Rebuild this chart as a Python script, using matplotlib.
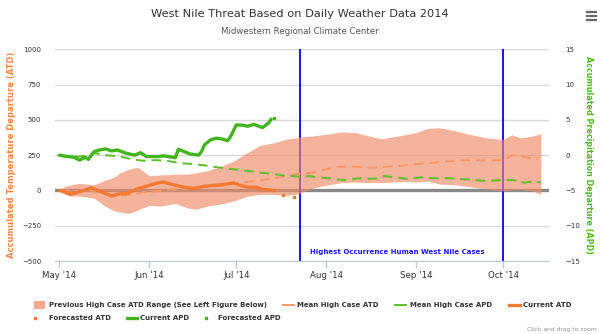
import numpy as np
import matplotlib
matplotlib.use("Agg")
import matplotlib.pyplot as plt
import matplotlib.dates as mdates
from matplotlib.lines import Line2D
from matplotlib.patches import Rectangle
from datetime import datetime

plt.rcParams['font.family'] = ['DejaVu Sans']

# ---- data (day of season counted from 1 May 2014) ----
range_day = [0, 2, 4, 7, 12, 16, 19, 21, 24, 27, 28, 31, 35, 40, 44, 47, 51, 55, 60, 65,
             69, 74, 78, 82, 84, 88, 93, 97, 102, 107, 111, 118, 123, 127, 131, 136, 140,
             147, 153, 156, 159, 163, 166]
range_low = [-5, -30, -40, -40, -55, -115, -145, -153, -163, -140, -130, -106, -111, -92,
             -123, -134, -111, -99, -76, -40, -28, -28, -35, -28, -10, 20, 40, 55, 59, 56,
             55, 63, 60, 66, 45, 40, 30, 10, -5, 5, 7, -5, -28]
range_high = [5, 30, 40, 50, 40, 75, 95, 125, 150, 165, 150, 105, 110, 115, 115, 125, 140,
              165, 207, 270, 318, 338, 361, 375, 380, 388, 400, 415, 410, 385, 366, 390, 410,
              440, 444, 425, 404, 373, 361, 394, 373, 385, 403]

mean_atd_day = [0, 5, 10, 13, 17, 20, 25, 29, 34, 38, 44, 54, 62, 70, 77, 82, 87, 92, 96,
                102, 108, 113, 119, 125, 131, 138, 145, 152, 154, 156, 160, 165]
mean_atd = [0, -5, 2, -12, -28, -40, -30, -12, -5, 5, 12, 30, 54, 73, 98, 115, 125, 150, 168,
            168, 161, 168, 177, 191, 200, 214, 212, 214, 224, 250, 238, 219]

mean_apd_day = [0, 7, 10, 12, 16, 21, 25, 29, 33, 37, 42, 46, 51, 55, 60, 65, 69, 74, 78, 80,
                84, 86, 88, 93, 99, 103, 106, 110, 112, 116, 120, 125, 129, 134, 139, 147, 154,
                158, 160, 163, 166]
mean_apd = [-0.1, -0.2, 0.0, 0.3, 0.0, -0.2, -0.58, -0.8, -0.7, -0.8, -1.15, -1.25, -1.5,
            -1.75, -2.0, -2.24, -2.48, -2.66, -2.95, -2.95, -3.1, -2.95, -3.1, -3.27, -3.6,
            -3.27, -3.4, -3.27, -2.95, -3.15, -3.37, -3.13, -3.27, -3.27, -3.4, -3.65, -3.5,
            -3.6, -3.9, -3.75, -3.84]

cur_atd_day = [0, 2, 4, 6, 8, 11, 15, 18, 21, 23, 27, 30, 34, 36, 39, 43, 46, 50, 53, 57,
               60, 62, 65, 68, 70, 73]
cur_atd = [0, -10, -28, -15, -3, 19, -14, -40, -21, -23, 12, 30, 54, 59, 42, 23, 14, 30, 35,
           42, 54, 38, 23, 23, 7, 2]

fc_atd_day = [74, 77, 81]
fc_atd = [0, -35, -45]

cur_apd_day = [0, 2, 5, 7, 9, 10, 12, 14, 16, 18, 20, 23, 26, 28, 30, 34, 36, 39, 40, 41, 44,
               45, 48, 49, 50, 52, 54, 56, 58, 59, 61, 63, 65, 67, 70, 72, 73]
cur_apd = [0.0, -0.15, -0.3, -0.7, -0.3, -0.6, 0.5, 0.75, 0.88, 0.6, 0.74, 0.27, 0.0, 0.35,
           -0.2, -0.2, -0.1, -0.3, -0.35, 0.83, 0.35, 0.17, 0.0, 0.5, 1.44, 2.15, 2.4, 2.3,
           2.05, 2.6, 4.28, 4.25, 4.1, 4.37, 3.9, 4.5, 5.1]

fc_apd_day = [74]
fc_apd = [5.2]

season_start = datetime(2014, 5, 1)
peak_window = [datetime(2014, 7, 23), datetime(2014, 10, 1)]

atd_ticks = [-500, -250, 0, 250, 500, 750, 1000]
apd_ticks = [-15, -10, -5, 0, 5, 10, 15]

# ---- colours ----
C_RANGE = '#f28b68'
C_MEAN_ATD = '#f8976a'
C_CUR_ATD = '#f47a34'
C_MEAN_APD = '#5cbf2a'
C_CUR_APD = '#43b51c'
C_ATD_TITLE = '#f4884c'
C_APD_TITLE = '#4cbb17'

base = mdates.date2num(season_start)


def dn(days):
    return base + np.asarray(days, dtype=float)


W, H = 600, 334
fig = plt.figure(figsize=(W / 100, H / 100), dpi=100)


def fx(px):
    return px / W


def fy(py):
    return 1 - py / H


left, right, top, bottom = 55, 549, 49.3, 261
ax = fig.add_axes([fx(left), fy(bottom), fx(right - left), (bottom - top) / H])
ax2 = ax.twinx()

ax.set_xlim(base - 1.5, base + 168.8)
ax.set_ylim(-500, 1000)
ax2.set_ylim(-15, 15)

# grid and reference lines
for t in atd_ticks:
    ax.axhline(t, color='#d8d8d8', lw=1.0, zorder=0)
ax.axhline(0, color='#8a8a8a', lw=2.4, zorder=1)
for d in peak_window:
    ax.axvline(mdates.date2num(d), color='#1515f0', lw=1.4, zorder=1)

# ATD series
ax.fill_between(dn(range_day), range_low, range_high, color=C_RANGE, alpha=0.65,
                lw=0, zorder=2)
ax.plot(dn(mean_atd_day), mean_atd, color=C_MEAN_ATD, lw=1.4, dashes=(5, 3), zorder=3)
ax.plot(dn(cur_atd_day), cur_atd, color=C_CUR_ATD, lw=2.4, zorder=4,
        solid_joinstyle='round', solid_capstyle='round')
ax.plot(dn(fc_atd_day), fc_atd, ls='none', marker='s', ms=2.0, color=C_CUR_ATD, zorder=4)

# APD series on the right axis
ax2.plot(dn(mean_apd_day), mean_apd, color=C_MEAN_APD, lw=1.4, dashes=(5, 3), zorder=3)
ax2.plot(dn(cur_apd_day), cur_apd, color=C_CUR_APD, lw=2.4, zorder=4,
         solid_joinstyle='round', solid_capstyle='round')
ax2.plot(dn(fc_apd_day), fc_apd, ls='none', marker='s', ms=2.0, color=C_CUR_APD, zorder=4)

# axes styling
for a in (ax, ax2):
    for s in a.spines.values():
        s.set_visible(False)
ax.spines['bottom'].set_visible(True)
ax.spines['bottom'].set_color('#c0c8d0')

ax.xaxis.set_major_locator(mdates.MonthLocator())
ax.xaxis.set_major_formatter(mdates.DateFormatter("%b '%y"))
ax.tick_params(axis='x', length=5, width=1, color='#c0c8d0', labelsize=6.2,
               labelcolor='#333333', pad=2)
ax.set_yticks(atd_ticks)
ax.tick_params(axis='y', length=0, labelsize=5, labelcolor='#333333', pad=10)
ax2.set_yticks(apd_ticks)
ax2.tick_params(axis='y', length=0, labelsize=5, labelcolor='#333333', pad=12)

ax.set_ylabel('Accumulated Temperature Departure (ATD)', color=C_ATD_TITLE,
              fontsize=6.0, fontweight='bold', labelpad=4)
ax2.set_ylabel('Accumulated Precipitation Departure (APD)', color=C_APD_TITLE,
               fontsize=5.8, fontweight='bold', rotation=270, labelpad=9)

# titles
fig.text(0.5, fy(14), 'West Nile Threat Based on Daily Weather Data 2014',
         ha='center', va='center', fontsize=8.2, color='#333333')
fig.text(0.5, fy(32), 'Midwestern Regional Climate Center',
         ha='center', va='center', fontsize=6.2, color='#555555')

# window annotation
fig.text(fx(310), fy(252), 'Highest Occurrence Human West Nile Cases',
         ha='left', va='center', fontsize=5.0, fontweight='bold', color='#1a1aee')

# menu icon
for yy in (11.5, 15.5, 19.5):
    fig.add_artist(Line2D([fx(587), fx(596)], [fy(yy), fy(yy)], color='#666666', lw=1.6))

# legend
LEG_FS = 5.05
row1, row2 = 305, 318


def leg_text(x, y, s):
    fig.text(fx(x), fy(y), s, ha='left', va='center', fontsize=LEG_FS,
             fontweight='bold', color='#333333')


fig.add_artist(Rectangle((fx(34), fy(row1 + 4)), fx(11), 8 / H, color=C_RANGE, alpha=0.75,
                         lw=0))
leg_text(49, row1, 'Previous High Case ATD Range (See Left Figure Below)')
fig.add_artist(Line2D([fx(283), fx(294)], [fy(row1)] * 2, color=C_MEAN_ATD, lw=1.4))
leg_text(297, row1, 'Mean High Case ATD')
fig.add_artist(Line2D([fx(395), fx(406)], [fy(row1)] * 2, color=C_MEAN_APD, lw=1.4))
leg_text(410, row1, 'Mean High Case APD')
fig.add_artist(Line2D([fx(509), fx(520)], [fy(row1)] * 2, color=C_CUR_ATD, lw=2.4))
leg_text(523, row1, 'Current ATD')

fig.add_artist(Line2D([fx(35)], [fy(row2)], ls='none', marker='s', ms=2.0, color=C_CUR_ATD))
leg_text(49, row2, 'Forecasted ATD')
fig.add_artist(Line2D([fx(127), fx(137)], [fy(row2)] * 2, color=C_CUR_APD, lw=2.4))
leg_text(140, row2, 'Current APD')
fig.add_artist(Line2D([fx(206)], [fy(row2)], ls='none', marker='s', ms=2.0, color=C_CUR_APD))
leg_text(218, row2, 'Forecasted APD')

fig.text(fx(597), fy(329), 'Click and drag to zoom', ha='right', va='center',
         fontsize=4.3, color='#909090')

fig.savefig('out.png', dpi=100)
